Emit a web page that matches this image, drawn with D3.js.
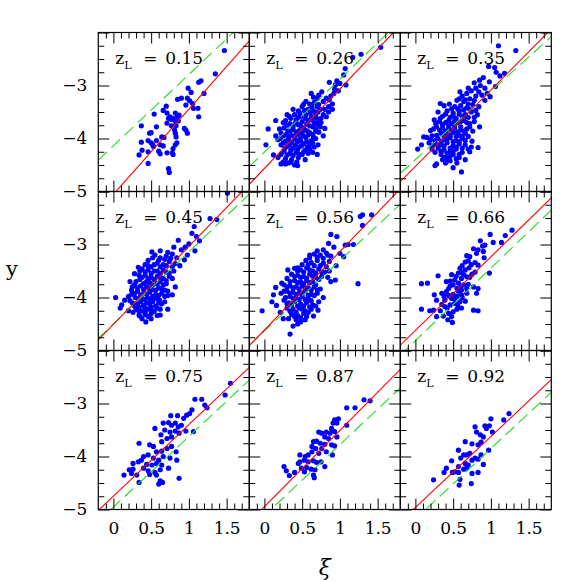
<!DOCTYPE html>
<html>
<head>
<meta charset="utf-8">
<script src="https://cdn.jsdelivr.net/npm/d3@7"></script>
<style>
body { margin: 0; background: #fff; }
svg { display: block; }
</style>
</head>
<body>
<div id="chart"></div>
<script>
// panel redshifts, in reading order
const redshifts = ["0.15", "0.26", "0.35", "0.45", "0.56", "0.66", "0.75", "0.87", "0.92"];

// red (solid) and green (dashed) relations: y = icpt + slope * xi
const redIcpt = [-5.055, -4.564, -4.527, -4.506, -4.614, -4.622, -4.748, -4.948, -4.962];
const redSlope = [1.61, 1.50, 1.44, 1.47, 1.48, 1.39, 1.35, 1.44, 1.34];
const greenIcpt = [-4.137, -4.257, -4.399, -4.498, -4.634, -4.816, -4.952, -5.117, -5.181];
const greenSlope = [1.345, 1.376, 1.29, 1.36, 1.33, 1.37, 1.33, 1.34, 1.33];

// tick values
const xMajor = [0, 0.5, 1, 1.5];
const xMinor = [-0.1, 0.1, 0.2, 0.3, 0.4, 0.6, 0.7, 0.8, 0.9, 1.1, 1.2, 1.3, 1.4, 1.6, 1.7];
const yMajor = [-5, -4, -3, -2];
const yMinor = [-4.75, -4.5, -4.25, -3.75, -3.5, -3.25, -2.75, -2.5, -2.25];
const yLabels = [-5, -4, -3];

// [xi, y] points
const pts015 = [[1.47,-2.34],[1.35,-2.78],[1.13,-2.94],[1.16,-2.91],[1.20,-3.15],[0.99,-3.05],[1.03,-3.13],[0.85,-3.26],[0.90,-3.24],[0.98,-3.24],[1.01,-3.29],[1.05,-3.34],[1.12,-3.43],[0.70,-3.39],[0.54,-3.54],[0.66,-3.47],[0.71,-3.52],[0.75,-3.59],[0.79,-3.62],[0.85,-3.59],[0.87,-3.56],[0.82,-3.52],[0.77,-3.64],[0.73,-3.62],[0.82,-3.68],[0.86,-3.67],[0.96,-3.37],[1.06,-3.43],[1.13,-3.59],[0.37,-3.76],[0.57,-3.78],[0.71,-3.71],[0.77,-3.76],[0.83,-3.76],[0.81,-3.84],[0.94,-3.81],[0.98,-3.90],[0.96,-3.84],[0.48,-3.90],[0.50,-3.89],[0.67,-3.98],[0.82,-3.90],[0.83,-3.97],[0.37,-4.07],[0.46,-4.04],[0.50,-4.08],[0.52,-4.12],[0.57,-4.04],[0.62,-4.12],[0.64,-3.97],[0.53,-4.15],[0.84,-4.08],[0.82,-4.12],[0.79,-4.19],[0.38,-4.22],[0.34,-4.31],[0.46,-4.25],[0.60,-4.24],[0.62,-4.29],[0.66,-4.14],[0.71,-4.27],[0.78,-4.27],[0.79,-4.30],[0.46,-4.47],[0.73,-4.57],[0.74,-4.64]];

const pts026 = [[1.54,-2.28],[1.28,-2.41],[1.17,-2.47],[1.07,-2.68],[1.05,-2.80],[0.96,-2.91],[1.08,-2.99],[0.86,-2.94],[0.94,-2.99],[1.00,-2.96],[0.93,-3.07],[0.76,-3.12],[0.62,-3.15],[0.72,-3.18],[0.86,-3.27],[0.82,-3.24],[0.78,-3.30],[0.38,-3.45],[0.15,-3.66],[0.05,-3.82],[0.02,-4.12],[0.12,-4.31],[0.22,-4.48],[0.44,-4.51],[0.70,-4.30],[0.71,-4.12],[0.82,-3.59],[0.80,-3.81],
  [0.55,-3.30],[0.60,-3.35],[0.66,-3.32],[0.70,-3.40],[0.50,-3.40],[0.45,-3.48],[0.58,-3.45],[0.65,-3.48],[0.74,-3.45],[0.80,-3.45],[0.85,-3.40],[0.90,-3.35],
  [0.30,-3.55],[0.40,-3.55],[0.48,-3.58],[0.55,-3.55],[0.62,-3.60],[0.68,-3.55],[0.75,-3.62],[0.42,-3.65],[0.50,-3.68],[0.58,-3.66],[0.66,-3.70],[0.72,-3.68],[0.35,-3.62],[0.25,-3.70],
  [0.30,-3.75],[0.38,-3.78],[0.45,-3.74],[0.52,-3.80],[0.60,-3.76],[0.68,-3.82],[0.74,-3.78],[0.20,-3.82],[0.34,-3.86],[0.42,-3.88],[0.50,-3.90],[0.57,-3.86],[0.64,-3.92],[0.72,-3.88],[0.78,-3.95],
  [0.15,-3.95],[0.25,-3.95],[0.32,-3.98],[0.40,-3.96],[0.47,-4.00],[0.55,-3.98],[0.62,-4.04],[0.68,-4.00],[0.28,-4.05],[0.36,-4.08],[0.44,-4.06],[0.52,-4.10],[0.60,-4.12],[0.66,-4.16],[0.18,-4.02],
  [0.22,-4.12],[0.30,-4.15],[0.38,-4.18],[0.46,-4.16],[0.54,-4.22],[0.26,-4.24],[0.34,-4.28],[0.42,-4.26],[0.50,-4.30],[0.58,-4.28],[0.64,-4.26],
  [0.18,-4.36],[0.28,-4.38],[0.36,-4.40],[0.45,-4.36],[0.54,-4.40],[0.32,-4.46],[0.40,-4.50],[0.25,-4.44],
  [0.88,-3.20],[0.92,-3.15],[0.98,-3.10],[0.70,-3.25],[0.65,-3.22],
  [0.52,-3.35],[0.63,-3.40],[0.72,-3.36],[0.47,-3.52],[0.53,-3.47],[0.61,-3.52],[0.71,-3.50],[0.78,-3.55],[0.33,-3.58],[0.45,-3.60],[0.54,-3.62],[0.63,-3.65],[0.69,-3.62],[0.28,-3.66],[0.34,-3.72],[0.41,-3.71],[0.48,-3.76],[0.56,-3.73],[0.64,-3.78],[0.70,-3.73],[0.26,-3.80],[0.31,-3.86],[0.38,-3.83],[0.46,-3.85],[0.54,-3.84],[0.60,-3.89],[0.68,-3.86],[0.22,-3.90],[0.29,-3.92],[0.36,-3.94],[0.44,-3.92],[0.51,-3.95],[0.58,-3.93],[0.65,-3.97],[0.21,-4.00],[0.32,-4.03],[0.40,-4.01],[0.48,-4.04],[0.56,-4.06],[0.64,-4.08],[0.25,-4.08],[0.33,-4.12],[0.41,-4.12],[0.49,-4.14],[0.57,-4.16],[0.27,-4.18],[0.35,-4.22],[0.44,-4.21],[0.52,-4.25],[0.30,-4.31],[0.38,-4.32],[0.46,-4.30],[0.22,-4.30],[0.35,-4.45],[0.43,-4.44],[0.28,-4.48],[0.60,-4.20],[0.75,-3.70],[0.85,-3.50],[0.90,-3.45]];

const pts035 = [[1.10,-2.25],[1.33,-2.34],[1.18,-2.77],[0.97,-2.64],[1.05,-2.66],[1.07,-2.75],[0.98,-2.93],[1.06,-3.02],[0.99,-3.21],[0.59,-3.12],[0.85,-3.78],[0.83,-4.17],[0.61,-4.63],[0.33,-3.34],[0.11,-3.97],[0.03,-4.20],[0.08,-4.12],[0.28,-4.48],[0.26,-4.51],[0.68,-3.59],[1.12,-2.82],[0.90,-2.85],[0.85,-2.90],[0.78,-2.95],[0.92,-3.05],[0.70,-3.05],[0.95,-3.15],[0.75,-4.05],[0.72,-4.25],[0.50,-4.55],[0.42,-4.42],[0.66,-4.40],
  [0.62,-3.20],[0.68,-3.15],[0.74,-3.10],[0.80,-3.05],[0.86,-3.00],[0.72,-3.25],[0.80,-3.20],[0.88,-3.18],[0.55,-3.28],[0.64,-3.30],[0.92,-3.28],
  [0.38,-3.38],[0.45,-3.35],[0.52,-3.40],[0.60,-3.38],[0.68,-3.42],[0.76,-3.36],[0.84,-3.40],[0.42,-3.48],[0.50,-3.52],[0.58,-3.48],[0.66,-3.55],[0.74,-3.50],[0.82,-3.55],[0.36,-3.58],[0.46,-3.60],[0.54,-3.62],[0.62,-3.58],[0.30,-3.50],
  [0.25,-3.65],[0.32,-3.68],[0.40,-3.70],[0.48,-3.72],[0.56,-3.70],[0.64,-3.66],[0.72,-3.72],[0.78,-3.68],[0.28,-3.78],[0.36,-3.80],[0.44,-3.82],[0.52,-3.80],[0.60,-3.84],[0.68,-3.82],[0.76,-3.86],[0.20,-3.85],[0.34,-3.90],[0.42,-3.92],[0.50,-3.88],[0.58,-3.94],[0.66,-3.90],
  [0.15,-3.98],[0.22,-3.95],[0.30,-4.00],[0.38,-4.02],[0.46,-3.98],[0.54,-4.04],[0.62,-4.00],[0.70,-3.96],[0.18,-4.08],[0.26,-4.10],[0.34,-4.12],[0.42,-4.08],[0.50,-4.14],[0.58,-4.10],[0.66,-4.12],[0.74,-4.16],[0.22,-4.20],[0.30,-4.18],
  [0.38,-4.22],[0.46,-4.24],[0.54,-4.20],[0.62,-4.26],[0.34,-4.30],[0.42,-4.34],[0.50,-4.30],[0.58,-4.36],[0.46,-4.42],[0.36,-4.40],[0.55,-4.46],
  [0.58,-3.25],[0.66,-3.27],[0.78,-3.28],[0.84,-3.12],[0.70,-3.35],[0.48,-3.44],[0.56,-3.44],[0.64,-3.46],[0.72,-3.45],[0.80,-3.47],[0.40,-3.54],[0.50,-3.57],[0.58,-3.54],[0.70,-3.60],[0.78,-3.60],[0.33,-3.62],[0.44,-3.66],[0.52,-3.66],[0.60,-3.68],[0.68,-3.70],[0.27,-3.72],[0.36,-3.74],[0.44,-3.76],[0.52,-3.75],[0.60,-3.78],[0.72,-3.78],[0.24,-3.82],[0.32,-3.84],[0.40,-3.86],[0.48,-3.84],[0.56,-3.88],[0.64,-3.86],[0.28,-3.94],[0.38,-3.96],[0.46,-3.94],[0.54,-3.96],[0.62,-3.96],[0.20,-4.02],[0.26,-4.04],[0.34,-4.06],[0.42,-4.02],[0.50,-4.06],[0.58,-4.06],[0.66,-4.04],[0.22,-4.14],[0.30,-4.12],[0.38,-4.14],[0.46,-4.18],[0.54,-4.16],[0.62,-4.18],[0.70,-4.20],[0.26,-4.26],[0.34,-4.24],[0.42,-4.28],[0.50,-4.24],[0.58,-4.30],[0.38,-4.36],[0.46,-4.34],[0.54,-4.38],[0.40,-4.46]];

const pts045 = [[1.51,-2.03],[1.28,-2.51],[1.37,-2.53],[1.07,-2.66],[1.04,-2.79],[1.10,-2.85],[1.14,-2.93],[0.86,-2.92],[1.00,-2.99],[1.08,-3.12],[0.94,-3.29],[0.51,-3.14],[0.33,-3.43],[0.03,-4.00],[0.11,-4.14],[0.09,-4.20],[0.43,-4.46],[0.34,-4.33],[0.62,-4.33],[0.68,-4.08],[0.82,-3.80],[0.95,-3.05],[0.90,-3.10],[0.80,-3.05],[0.72,-3.15],[0.62,-3.12],[0.98,-3.20],[0.88,-3.40],[0.78,-3.95],[0.72,-4.22],[0.50,-4.40],[0.20,-4.25],[0.15,-4.05],[0.22,-3.70],[0.28,-3.55],
  [0.55,-3.20],[0.62,-3.25],[0.70,-3.22],[0.78,-3.18],[0.84,-3.25],[0.58,-3.35],[0.66,-3.38],[0.74,-3.32],[0.82,-3.36],[0.46,-3.30],[0.50,-3.42],[0.42,-3.38],
  [0.35,-3.50],[0.42,-3.52],[0.50,-3.55],[0.58,-3.50],[0.66,-3.48],[0.74,-3.54],[0.80,-3.50],[0.38,-3.62],[0.46,-3.64],[0.54,-3.66],[0.62,-3.62],[0.70,-3.68],[0.78,-3.64],[0.30,-3.70],[0.40,-3.74],[0.48,-3.72],[0.58,-3.74],[0.66,-3.76],
  [0.25,-3.80],[0.32,-3.82],[0.40,-3.85],[0.48,-3.82],[0.56,-3.86],[0.64,-3.84],[0.72,-3.88],[0.28,-3.92],[0.36,-3.95],[0.44,-3.94],[0.52,-3.98],[0.60,-3.96],[0.68,-3.98],[0.20,-3.98],[0.33,-4.02],[0.41,-4.04],[0.49,-4.05],[0.57,-4.02],
  [0.25,-4.10],[0.32,-4.12],[0.40,-4.15],[0.48,-4.12],[0.56,-4.16],[0.64,-4.12],[0.30,-4.22],[0.38,-4.25],[0.46,-4.22],[0.54,-4.26],[0.62,-4.22],[0.35,-4.35],[0.42,-4.32],[0.50,-4.30],[0.58,-4.34],
  [0.52,-3.25],[0.60,-3.30],[0.68,-3.28],[0.76,-3.26],[0.46,-3.40],[0.54,-3.38],[0.62,-3.42],[0.70,-3.40],[0.78,-3.42],[0.38,-3.46],[0.46,-3.48],[0.54,-3.50],[0.62,-3.55],[0.70,-3.52],[0.34,-3.58],[0.42,-3.58],[0.50,-3.62],[0.58,-3.60],[0.66,-3.64],[0.74,-3.60],[0.35,-3.66],[0.44,-3.70],[0.52,-3.76],[0.62,-3.70],[0.70,-3.74],[0.28,-3.76],[0.36,-3.78],[0.44,-3.80],[0.52,-3.85],[0.60,-3.82],[0.68,-3.86],[0.24,-3.86],[0.32,-3.88],[0.40,-3.92],[0.48,-3.90],[0.56,-3.94],[0.64,-3.92],[0.72,-3.96],[0.24,-3.94],[0.29,-4.00],[0.37,-4.00],[0.45,-4.00],[0.53,-4.02],[0.61,-4.05],[0.22,-4.06],[0.28,-4.16],[0.36,-4.08],[0.44,-4.10],[0.52,-4.08],[0.60,-4.10],[0.34,-4.18],[0.42,-4.20],[0.50,-4.18],[0.58,-4.20],[0.26,-4.28],[0.34,-4.26],[0.42,-4.28],[0.50,-4.24],[0.46,-4.36],[0.38,-4.40]];

const pts056 = [[1.27,-2.47],[1.30,-2.44],[1.42,-2.44],[1.30,-2.64],[0.88,-2.81],[0.96,-2.85],[1.07,-3.01],[1.11,-3.00],[1.18,-3.00],[1.05,-3.23],[1.00,-3.17],[1.24,-3.74],[0.88,-3.70],[0.94,-3.67],[0.31,-3.48],[0.44,-3.44],[0.15,-3.81],[0.23,-3.73],[-0.03,-4.25],[0.10,-4.08],[0.21,-4.28],[0.38,-4.54],[0.34,-4.69],[0.54,-4.42],[0.71,-4.24],[0.92,-3.05],[0.85,-2.98],[0.78,-3.10],[0.70,-3.12],[0.60,-3.25],[0.95,-3.40],[0.86,-3.50],[0.78,-4.00],[0.65,-4.35],[0.25,-4.40],[0.16,-4.15],[0.12,-3.95],
  [0.66,-3.18],[0.74,-3.20],[0.82,-3.16],[0.88,-3.22],[0.55,-3.30],[0.62,-3.34],[0.70,-3.30],[0.78,-3.35],[0.86,-3.32],[0.50,-3.38],
  [0.40,-3.45],[0.48,-3.48],[0.56,-3.44],[0.64,-3.50],[0.72,-3.46],[0.80,-3.52],[0.36,-3.56],[0.44,-3.58],[0.52,-3.60],[0.60,-3.56],[0.68,-3.62],[0.76,-3.60],[0.84,-3.62],[0.30,-3.64],[0.40,-3.68],[0.48,-3.70],[0.56,-3.68],[0.64,-3.70],
  [0.26,-3.76],[0.34,-3.78],[0.42,-3.80],[0.50,-3.78],[0.58,-3.82],[0.66,-3.80],[0.74,-3.84],[0.30,-3.88],[0.38,-3.90],[0.46,-3.92],[0.54,-3.88],[0.62,-3.94],[0.70,-3.92],[0.22,-3.92],[0.34,-3.98],[0.42,-4.00],[0.50,-3.98],[0.58,-4.02],
  [0.26,-4.05],[0.32,-4.10],[0.40,-4.08],[0.48,-4.12],[0.56,-4.10],[0.64,-4.14],[0.72,-4.08],[0.30,-4.20],[0.38,-4.22],[0.46,-4.20],[0.54,-4.25],[0.62,-4.22],[0.36,-4.32],[0.44,-4.34],[0.52,-4.30],[0.42,-4.42],[0.48,-4.46],
  [0.60,-3.20],[0.70,-3.24],[0.78,-3.26],[0.84,-3.20],[0.58,-3.38],[0.66,-3.40],[0.74,-3.40],[0.82,-3.42],[0.44,-3.50],[0.52,-3.52],[0.60,-3.48],[0.68,-3.54],[0.76,-3.52],[0.40,-3.60],[0.48,-3.62],[0.56,-3.64],[0.64,-3.60],[0.72,-3.66],[0.34,-3.70],[0.44,-3.72],[0.52,-3.74],[0.60,-3.72],[0.68,-3.76],[0.30,-3.80],[0.38,-3.82],[0.46,-3.84],[0.54,-3.82],[0.62,-3.86],[0.70,-3.86],[0.26,-3.88],[0.34,-3.92],[0.42,-3.94],[0.50,-3.92],[0.58,-3.96],[0.66,-3.96],[0.28,-4.00],[0.38,-4.02],[0.46,-4.04],[0.54,-4.04],[0.62,-4.06],[0.30,-4.12],[0.36,-4.14],[0.44,-4.16],[0.52,-4.16],[0.60,-4.18],[0.68,-4.16],[0.34,-4.26],[0.42,-4.28],[0.50,-4.22],[0.58,-4.28],[0.40,-4.36],[0.48,-4.38],[0.56,-4.36],[0.32,-4.40],[0.44,-4.50]];

const pts066 = [[1.28,-2.73],[1.19,-2.83],[0.99,-2.81],[0.86,-2.93],[0.89,-3.03],[0.92,-3.01],[1.03,-2.96],[1.14,-2.96],[0.77,-3.08],[0.83,-3.10],[0.90,-3.13],[0.68,-3.21],[0.72,-3.23],[0.81,-3.17],[0.91,-3.25],[0.66,-3.33],[0.70,-3.31],[0.79,-3.34],[0.83,-3.39],[0.98,-3.54],[0.30,-3.59],[0.59,-3.45],[0.66,-3.48],[0.71,-3.44],[0.08,-3.74],[0.16,-3.73],[0.41,-3.70],[0.46,-3.69],[0.52,-3.67],[0.61,-3.64],[0.68,-3.61],[0.75,-3.56],[0.79,-3.52],[0.57,-3.73],[0.64,-3.76],[0.70,-3.75],[0.77,-3.80],[0.81,-3.92],[0.83,-3.83],[0.25,-3.95],[0.28,-4.05],[0.41,-3.89],[0.44,-3.96],[0.50,-3.94],[0.57,-3.88],[0.39,-4.05],[0.48,-4.02],[0.55,-3.98],[0.61,-3.95],[0.68,-3.92],[0.08,-4.22],[0.19,-4.25],[0.24,-4.24],[0.35,-4.13],[0.39,-4.17],[0.46,-4.14],[0.52,-4.11],[0.59,-4.08],[0.66,-4.07],[0.28,-4.36],[0.37,-4.35],[0.44,-4.30],[0.50,-4.27],[0.55,-4.22],[0.43,-4.42],[0.49,-4.47],[0.77,-4.24],[0.83,-4.25],[0.61,-4.20],[0.57,-3.54],[0.61,-3.53],[0.50,-3.76],[0.44,-3.83],[0.35,-3.92],[0.48,-3.57],[0.55,-3.83],[0.61,-3.86],
  [0.62,-3.40],[0.74,-3.38],[0.54,-3.60],[0.64,-3.57],[0.72,-3.62],[0.46,-3.78],[0.60,-3.80],[0.68,-3.83],[0.38,-3.98],[0.52,-4.02],[0.62,-4.00],[0.42,-4.20],[0.56,-4.14],[0.33,-4.25],[0.48,-4.36]];

const pts075 = [[1.55,-2.62],[1.48,-2.84],[1.08,-2.92],[1.17,-2.92],[1.21,-3.03],[1.24,-3.08],[0.97,-3.22],[1.01,-3.19],[1.04,-3.12],[0.76,-3.23],[0.85,-3.23],[0.93,-3.28],[0.66,-3.37],[0.73,-3.36],[0.77,-3.41],[0.82,-3.37],[0.86,-3.44],[0.90,-3.41],[0.55,-3.47],[0.68,-3.50],[0.75,-3.54],[0.82,-3.52],[0.87,-3.56],[0.96,-3.52],[1.06,-3.53],[0.34,-3.75],[0.48,-3.78],[0.53,-3.81],[0.63,-3.59],[0.64,-3.72],[0.71,-3.66],[0.77,-3.63],[0.57,-3.91],[0.64,-3.90],[0.71,-3.85],[0.77,-3.81],[0.83,-3.91],[0.40,-4.00],[0.46,-3.97],[0.53,-4.03],[0.60,-4.07],[0.66,-4.00],[0.75,-4.03],[0.26,-4.13],[0.33,-4.10],[0.37,-4.07],[0.44,-4.15],[0.51,-4.16],[0.57,-4.13],[0.64,-4.16],[0.73,-4.22],[0.84,-4.07],[0.21,-4.25],[0.26,-4.24],[0.40,-4.22],[0.46,-4.27],[0.55,-4.30],[0.62,-4.25],[0.14,-4.35],[0.24,-4.32],[0.31,-4.35],[0.48,-4.34],[0.57,-4.35],[0.34,-4.49],[0.62,-4.46],[0.60,-4.52],[0.65,-4.49],[0.87,-4.41]];

const pts087 = [[1.32,-2.93],[1.40,-2.95],[1.20,-3.08],[1.09,-3.08],[1.09,-3.41],[0.93,-3.31],[0.98,-3.29],[0.91,-3.37],[0.96,-3.37],[0.89,-3.47],[0.93,-3.53],[0.96,-3.63],[0.87,-3.56],[0.72,-3.54],[0.76,-3.56],[0.82,-3.54],[0.80,-3.63],[0.85,-3.66],[0.65,-3.72],[0.69,-3.71],[0.74,-3.75],[0.80,-3.77],[0.89,-3.78],[0.93,-3.80],[0.90,-3.97],[0.63,-3.81],[0.68,-3.85],[0.76,-3.85],[0.82,-3.91],[0.72,-3.94],[0.47,-3.97],[0.54,-4.00],[0.58,-3.97],[0.63,-3.91],[0.47,-4.10],[0.53,-4.07],[0.58,-4.10],[0.65,-4.08],[0.69,-4.11],[0.75,-4.10],[0.80,-4.19],[0.26,-4.19],[0.29,-4.27],[0.40,-4.30],[0.33,-4.36],[0.49,-4.22],[0.56,-4.21],[0.62,-4.24],[0.67,-4.25],[0.53,-4.29],[0.65,-4.35],[0.66,-4.40],[0.45,-4.13]];

const pts092 = [[1.24,-3.19],[1.17,-3.31],[1.00,-3.29],[0.79,-3.44],[0.92,-3.42],[0.98,-3.42],[0.94,-3.47],[0.81,-3.54],[0.86,-3.59],[1.02,-3.54],[0.97,-3.88],[0.90,-3.63],[0.66,-3.72],[0.75,-3.76],[0.83,-3.78],[0.87,-3.73],[0.57,-3.88],[0.64,-3.97],[0.68,-3.97],[0.72,-3.94],[0.79,-4.03],[0.75,-4.07],[0.83,-4.05],[0.87,-3.97],[0.48,-4.08],[0.60,-4.03],[0.66,-4.13],[0.70,-4.16],[0.90,-4.15],[0.41,-4.22],[0.57,-4.19],[0.64,-4.24],[0.52,-4.29],[0.68,-4.22],[0.38,-4.30],[0.49,-4.30],[0.57,-4.30],[0.75,-4.32],[0.83,-4.30],[0.59,-4.43],[0.58,-4.54],[0.74,-4.51],[0.24,-4.44]];

const panelPoints = [pts015, pts026, pts035, pts045, pts056, pts066, pts075, pts087, pts092];

// layout
const W = 581, H = 581;
const left0 = 98.3, top0 = 32.5, pw = 151, ph = 159;
const serif = "'DejaVu Serif', serif";

const svg = d3.select("#chart").append("svg")
    .attr("width", W)
    .attr("height", H);

const x = d3.scaleLinear().domain([-0.2, 1.8]).range([0, pw]);
const y = d3.scaleLinear().domain([-5, -2]).range([ph, 0]);

function tickStyle(g) {
    g.select(".domain").remove();
    g.selectAll("line").attr("stroke", "#000").attr("stroke-width", 1);
    g.attr("font-family", serif).attr("font-size", 17);
    g.selectAll("text").attr("fill", "#000");
}

panelPoints.forEach(function (pts, i) {
    const col = i % 3, row = Math.floor(i / 3);
    const g = svg.append("g")
        .attr("transform", "translate(" + (left0 + col * pw) + "," + (top0 + row * ph) + ")");

    g.append("clipPath").attr("id", "clip" + i)
        .append("rect").attr("width", pw).attr("height", ph);

    const inner = g.append("g").attr("clip-path", "url(#clip" + i + ")");

    inner.selectAll("circle")
        .data(pts)
        .join("circle")
        .attr("cx", d => x(d[0]))
        .attr("cy", d => y(d[1]))
        .attr("r", 2.6)
        .attr("fill", "#0000ff");

    const xs = x.domain();
    const line = d3.line().x(d => x(d[0])).y(d => y(d[1]));

    inner.append("path")
        .datum(xs.map(v => [v, greenIcpt[i] + greenSlope[i] * v]))
        .attr("fill", "none")
        .attr("stroke", "#22dd22")
        .attr("stroke-width", 1.1)
        .attr("stroke-dasharray", "12,6")
        .attr("d", line);

    inner.append("path")
        .datum(xs.map(v => [v, redIcpt[i] + redSlope[i] * v]))
        .attr("fill", "none")
        .attr("stroke", "#ff0000")
        .attr("stroke-width", 1.1)
        .attr("d", line);

    // ticks on all four sides, pointing in
    g.append("g").attr("transform", "translate(0," + ph + ")")
        .call(d3.axisBottom(x).tickValues(xMajor).tickSize(-11).tickPadding(12)
            .tickFormat(row == 2 ? d3.format("~g") : ""))
        .call(tickStyle);
    g.append("g").attr("transform", "translate(0," + ph + ")")
        .call(d3.axisBottom(x).tickValues(xMinor).tickSize(-6).tickFormat(""))
        .call(tickStyle);
    g.append("g")
        .call(d3.axisTop(x).tickValues(xMajor).tickSize(-11).tickFormat(""))
        .call(tickStyle);
    g.append("g")
        .call(d3.axisTop(x).tickValues(xMinor).tickSize(-6).tickFormat(""))
        .call(tickStyle);

    g.append("g")
        .call(d3.axisLeft(y).tickValues(yMajor).tickSize(-11).tickPadding(11)
            .tickFormat(d => (col == 0 && yLabels.includes(d)) ? d3.format("~g")(d) : ""))
        .call(tickStyle);
    g.append("g")
        .call(d3.axisLeft(y).tickValues(yMinor).tickSize(-6).tickFormat(""))
        .call(tickStyle);
    g.append("g").attr("transform", "translate(" + pw + ",0)")
        .call(d3.axisRight(y).tickValues(yMajor).tickSize(-11).tickFormat(""))
        .call(tickStyle);
    g.append("g").attr("transform", "translate(" + pw + ",0)")
        .call(d3.axisRight(y).tickValues(yMinor).tickSize(-6).tickFormat(""))
        .call(tickStyle);

    g.append("rect")
        .attr("width", pw).attr("height", ph)
        .attr("fill", "none")
        .attr("stroke", "#000")
        .attr("stroke-width", 1.2);

    // z_L label
    const t = g.append("text")
        .attr("x", 17).attr("y", 31)
        .attr("font-family", serif)
        .attr("font-size", 17)
        .attr("fill", "#000");
    t.append("tspan").text("z");
    t.append("tspan").attr("font-size", 11).attr("dy", 5).text("L");
    t.append("tspan").attr("x", 45).attr("dy", -5).text("=");
    t.append("tspan").attr("x", 67).text(redshifts[i]);
});

// axis titles
svg.append("text")
    .attr("x", left0 + 1.5 * pw)
    .attr("y", 575)
    .attr("text-anchor", "middle")
    .attr("font-family", serif)
    .attr("font-style", "italic")
    .attr("font-size", 22)
    .text("ξ");

svg.append("text")
    .attr("x", 12)
    .attr("y", 276)
    .attr("text-anchor", "middle")
    .attr("font-family", serif)
    .attr("font-size", 21)
    .text("y");
</script>
</body>
</html>
